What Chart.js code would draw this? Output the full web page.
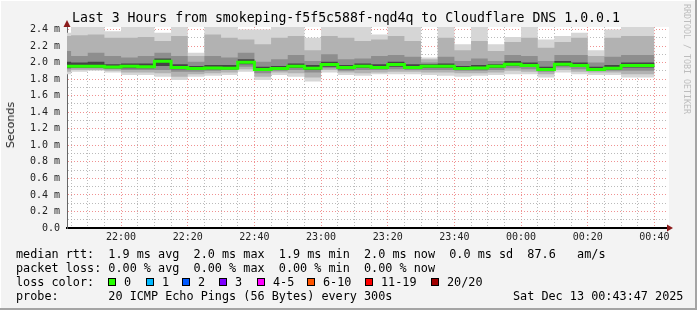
<!DOCTYPE html>
<html>
<head>
<meta charset="utf-8">
<script src="https://cdn.jsdelivr.net/npm/chart.js@4/dist/chart.umd.min.js"></script>
<style>
  html, body { margin: 0; padding: 0; background: #f3f3f3; }
  #wrap {
    position: relative; width: 697px; height: 310px; background: #f3f3f3;
    box-shadow: inset -2px -2px 0 #a4a4a4, inset 1px 1px 0 #ffffff;
    overflow: hidden;
  }
  #c { position: absolute; left: 0; top: 0; }
  .t { position: absolute; white-space: pre; font-family: "DejaVu Sans Mono", monospace; color: #000; }
  .lg { font-size: 11.8px; line-height: 14px; left: 16px; }
  .box { position: absolute; width: 6px; height: 6px; border: 1px solid #000; top: 278px; }
</style>
</head>
<body>
<div id="wrap">
  <canvas id="c" width="697" height="310"></canvas>
  <div class="t" style="left:72px;top:10px;font-size:13.2px;line-height:16px;">Last 3 Hours from smokeping-f5f5c588f-nqd4q to Cloudflare DNS 1.0.0.1</div>
  <div class="t" style="left:4px;top:102px;font-family:'DejaVu Sans',sans-serif;font-size:11px;writing-mode:vertical-rl;transform:rotate(180deg);color:#222;">Seconds</div>
  <div class="t" style="left:682px;top:4px;font-size:8.3px;writing-mode:vertical-rl;color:#bdbdbd;">RRDTOOL / TOBI OETIKER</div>

  <div class="t lg" style="top:247px">median rtt:  1.9 ms avg  2.0 ms max  1.9 ms min  2.0 ms now  0.0 ms sd  87.6   am/s</div>
  <div class="t lg" style="top:261px">packet loss: 0.00 % avg  0.00 % max  0.00 % min  0.00 % now</div>
  <div class="t lg" style="top:275px">loss color:</div>
  <div id="lossRow"></div>
  <div class="t lg" style="top:289px">probe:       20 ICMP Echo Pings (56 Bytes) every 300s</div>
  <div class="t lg" style="top:289px;left:513px">Sat Dec 13 00:43:47 2025</div>
</div>
<script>
// ============================
// DATA
// ============================

// column start, minutes after 21:00 (first column is partial)
const slotMinutes = [43.78, 45, 50, 55, 60, 65, 70, 75, 80, 85, 90, 95, 100, 105, 110, 115, 120, 125,
  130, 135, 140, 145, 150, 155, 160, 165, 170, 175, 180, 185, 190, 195, 200, 205, 210, 215];
const slotEnd = 220;

// rtt in ms
const rttMin = [1.88, 1.86, 1.89, 1.90, 1.88, 1.85, 1.85, 1.83, 1.79, 1.83, 1.84, 1.85, 1.89, 1.79, 1.85, 1.83, 1.77, 1.88,
  1.85, 1.84, 1.86, 1.86, 1.86, 1.85, 1.84, 1.83, 1.84, 1.85, 1.86, 1.86, 1.82, 1.88, 1.86, 1.85, 1.85, 1.82];
const rttP10 = [1.90, 1.89, 1.91, 1.91, 1.90, 1.88, 1.88, 1.87, 1.83, 1.86, 1.87, 1.88, 1.92, 1.83, 1.88, 1.87, 1.82, 1.91,
  1.88, 1.87, 1.88, 1.89, 1.89, 1.88, 1.88, 1.87, 1.87, 1.88, 1.90, 1.89, 1.86, 1.91, 1.89, 1.88, 1.88, 1.86];
const rttP25 = [1.92, 1.92, 1.93, 1.93, 1.92, 1.91, 1.91, 1.91, 1.89, 1.89, 1.90, 1.91, 1.95, 1.87, 1.90, 1.91, 1.88, 1.93,
  1.90, 1.91, 1.91, 1.92, 1.91, 1.91, 1.91, 1.90, 1.90, 1.91, 1.93, 1.92, 1.89, 1.94, 1.92, 1.90, 1.90, 1.90];
const rttCoreLo = [1.94, 1.935, 1.94, 1.94, 1.93, 1.93, 1.93, 1.96, 1.92, 1.91, 1.92, 1.92, 1.98, 1.90, 1.915, 1.935, 1.91, 1.95,
  1.92, 1.935, 1.925, 1.95, 1.925, 1.935, 1.935, 1.915, 1.92, 1.935, 1.96, 1.945, 1.905, 1.96, 1.945, 1.905, 1.915, 1.94];
const rttMedian = [1.967, 1.955, 1.955, 1.955, 1.945, 1.955, 1.95, 2.016, 1.94, 1.927, 1.935, 1.93, 2.005, 1.915, 1.927, 1.955, 1.93, 1.976,
  1.94, 1.955, 1.94, 1.976, 1.94, 1.955, 1.955, 1.927, 1.935, 1.955, 1.98, 1.964, 1.915, 1.98, 1.964, 1.915, 1.93, 1.964];
const rttCoreHi = [1.99, 2.01, 2.00, 2.01, 1.98, 1.99, 1.99, 2.05, 1.98, 1.96, 1.97, 1.97, 2.04, 1.95, 1.96, 1.99, 1.97, 2.01,
  1.97, 1.99, 1.98, 2.01, 1.98, 1.98, 1.99, 1.96, 1.97, 1.98, 2.02, 2.00, 1.95, 2.02, 2.00, 1.95, 1.97, 2.00];
const rttP75 = [2.04, 2.14, 2.08, 2.12, 2.08, 2.06, 2.08, 2.12, 2.08, 2.01, 2.08, 2.06, 2.12, 2.01, 2.04, 2.09, 2.02, 2.10,
  2.04, 2.05, 2.08, 2.09, 2.07, 2.00, 2.07, 2.02, 2.05, 2.02, 2.09, 2.08, 2.02, 2.09, 2.09, 2.00, 2.07, 2.09];
const rttP90 = [2.09, 2.32, 2.33, 2.34, 2.30, 2.30, 2.31, 2.26, 2.32, 2.08, 2.34, 2.30, 2.28, 2.22, 2.30, 2.32, 2.15, 2.32,
  2.30, 2.26, 2.28, 2.32, 2.26, 2.04, 2.30, 2.15, 2.26, 2.14, 2.25, 2.30, 2.18, 2.25, 2.30, 2.08, 2.30, 2.32];
const rttMax = [2.12, 2.36, 2.43, 2.43, 2.38, 2.43, 2.43, 2.36, 2.43, 2.12, 2.43, 2.43, 2.40, 2.40, 2.43, 2.43, 2.30, 2.43,
  2.43, 2.43, 2.34, 2.43, 2.43, 2.06, 2.43, 2.22, 2.43, 2.22, 2.31, 2.43, 2.28, 2.32, 2.36, 2.15, 2.40, 2.43];

const timeTickMinutes = [60, 80, 100, 120, 140, 160, 180, 200, 220];
const timeTickLabels = ["22:00", "22:20", "22:40", "23:00", "23:20", "23:40", "00:00", "00:20", "00:40"];

const lossLabels = ["0", "1", "2", "3", "4-5", "6-10", "11-19", "20/20"];
const lossColors = ["#26ff00", "#00b8ff", "#0059ff", "#7e00ff", "#ff00ff", "#ff5500", "#ff0000", "#a00000"];

// ============================
// HELPERS
// ============================

function steps(values) {
  const pts = slotMinutes.map((m, i) => ({ x: m, y: values[i] }));
  pts.push({ x: slotEnd, y: values[values.length - 1] });
  return pts;
}

function band(hi, lo, color, order) {
  return [
    { data: steps(hi), fill: "+1", backgroundColor: color, borderColor: "transparent", borderWidth: 0,
      pointRadius: 0, stepped: "after", order },
    { data: steps(lo), fill: false, borderColor: "transparent", borderWidth: 0,
      pointRadius: 0, stepped: "after", order }
  ];
}

// loss colour legend
const lossBoxX = [108, 146, 182, 219, 257, 307, 365, 431];
const lossRow = document.getElementById("lossRow");
lossLabels.forEach((lab, i) => {
  const b = document.createElement("div");
  b.className = "box";
  b.style.left = lossBoxX[i] + "px";
  b.style.background = lossColors[i];
  lossRow.appendChild(b);
  const t = document.createElement("div");
  t.className = "t lg";
  t.style.top = "275px";
  t.style.left = (lossBoxX[i] + 16) + "px";
  t.textContent = lab;
  lossRow.appendChild(t);
});

// ============================
// PLUGINS
// ============================

const plotBackground = {
  id: "plotBackground",
  beforeDraw(chart) {
    const { ctx, chartArea: a } = chart;
    ctx.save();
    ctx.fillStyle = "#ffffff";
    ctx.fillRect(a.left, a.top, a.right - a.left + 2, a.bottom - a.top);
    ctx.restore();
  }
};

const axisArrows = {
  id: "axisArrows",
  afterDraw(chart) {
    const { ctx, chartArea: a } = chart;
    ctx.save();
    ctx.fillStyle = "#8b1a1a";
    ctx.beginPath();
    ctx.moveTo(a.left, a.top - 7);
    ctx.lineTo(a.left - 3.5, a.top);
    ctx.lineTo(a.left + 3.5, a.top);
    ctx.closePath();
    ctx.fill();
    ctx.beginPath();
    ctx.moveTo(a.right + 6, a.bottom);
    ctx.lineTo(a.right, a.bottom - 3.5);
    ctx.lineTo(a.right, a.bottom + 3.5);
    ctx.closePath();
    ctx.fill();
    ctx.restore();
  }
};

// ============================
// CHART
// ============================

const redGrid = "rgba(235,110,110,0.75)";
const greyGrid = "rgba(170,170,170,0.8)";

new Chart(document.getElementById("c"), {
  type: "line",
  data: {
    datasets: [
      { data: steps(rttMedian), borderColor: "#26ff00", borderWidth: 3, pointRadius: 0,
        stepped: "after", fill: false, order: 0 },
      ...band(rttCoreHi, rttCoreLo, "#454545", 1),
      ...band(rttP75, rttP25, "#8e8e8e", 2),
      ...band(rttP90, rttP10, "#b2b2b2", 3),
      ...band(rttMax, rttMin, "#d6d6d6", 4)
    ]
  },
  options: {
    responsive: false,
    animation: false,
    devicePixelRatio: 1,
    layout: { padding: { left: 0, top: 27, right: 30, bottom: 65 } },
    plugins: { legend: { display: false }, tooltip: { enabled: false } },
    scales: {
      x: {
        type: "linear",
        min: 43.78,
        max: 223.78,
        z: 1,
        afterBuildTicks(scale) {
          const t = [];
          for (let m = 45; m <= 220; m += 5) t.push({ value: m });
          scale.ticks = t;
        },
        afterFit(scale) { scale.height = 17; },
        ticks: {
          autoSkip: false,
          maxRotation: 0,
          padding: 3,
          color: "#222",
          font: { family: "DejaVu Sans Mono", size: 10 },
          callback(v) {
            const i = timeTickMinutes.indexOf(v);
            return i >= 0 ? timeTickLabels[i] : "";
          }
        },
        grid: {
          drawTicks: false,
          lineWidth: 1,
          color: c => (c.tick && c.tick.value % 20 === 0) ? redGrid : greyGrid
        },
        border: { display: true, color: "#000", width: 2, dash: [1, 2] }
      },
      y: {
        min: 0,
        max: 2.43,
        z: 1,
        afterBuildTicks(scale) {
          const t = [];
          for (let k = 0; k <= 24; k++) t.push({ value: k / 10 });
          scale.ticks = t;
        },
        afterFit(scale) { scale.width = 67; },
        ticks: {
          autoSkip: false,
          padding: 7,
          color: "#222",
          font: { family: "DejaVu Sans Mono", size: 10 },
          callback(v) {
            const k = Math.round(v * 10);
            if (k % 2 !== 0) return "";
            return k === 0 ? "0.0" : (k / 10).toFixed(1) + " m";
          }
        },
        grid: {
          drawTicks: false,
          lineWidth: 1,
          color: c => {
            const k = Math.round(c.tick.value * 10);
            if (k === 0) return "rgba(0,0,0,0)";
            return k % 2 === 0 ? redGrid : greyGrid;
          }
        },
        border: { display: true, color: "#666", width: 1, dash: [1, 2] }
      }
    }
  },
  plugins: [plotBackground, axisArrows]
});
</script>
</body>
</html>
